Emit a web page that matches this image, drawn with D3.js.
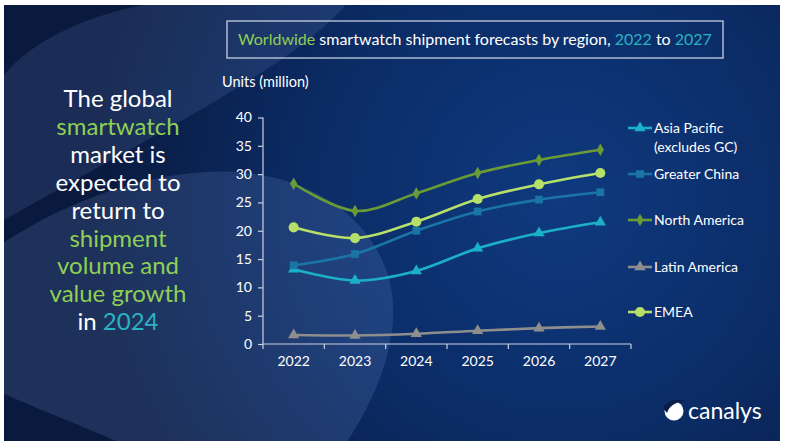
<!DOCTYPE html>
<html><head><meta charset="utf-8">
<script src="https://cdn.jsdelivr.net/npm/d3@7"></script>
<style>html,body{margin:0;padding:0;background:#fff;}svg{display:block;}</style>
</head><body>
<svg id="c" width="785" height="445"></svg>
<script>
const years = ["2022","2023","2024","2025","2026","2027"];
const yTicks = [0,5,10,15,20,25,30,35,40];
const northAmerica = [28.3,23.5,26.6,30.2,32.5,34.3];
const emea = [20.6,18.7,21.6,25.6,28.2,30.2];
const greaterChina = [13.9,15.9,20.0,23.4,25.5,26.8];
const asiaPacific = [13.2,11.2,12.9,16.9,19.6,21.5];
const latinAmerica = [1.6,1.5,1.8,2.35,2.8,3.1];
const seriesNames = ["Asia Pacific","Greater China","North America","Latin America","EMEA"];

const series = [
  {name:"North America", values:northAmerica, color:"#6b9b36", sym:d3.symbolDiamond, size:45},
  {name:"EMEA", values:emea, color:"#b6e06a", sym:d3.symbolCircle, size:80},
  {name:"Greater China", values:greaterChina, color:"#1a74a6", sym:d3.symbolSquare, size:60},
  {name:"Asia Pacific", values:asiaPacific, color:"#1cb0c8", sym:d3.symbolTriangle, size:55},
  {name:"Latin America", values:latinAmerica, color:"#8e8e8e", sym:d3.symbolTriangle, size:55}
];

const svg = d3.select("#c");
const defs = svg.append("defs");
const rg = defs.append("radialGradient").attr("id","bg").attr("gradientUnits","userSpaceOnUse")
  .attr("cx",560).attr("cy",200).attr("r",470);
rg.append("stop").attr("offset","0%").attr("stop-color","#0f3a80");
rg.append("stop").attr("offset","55%").attr("stop-color","#0b2b64");
rg.append("stop").attr("offset","100%").attr("stop-color","#0a1a3e");

const panel = svg.append("g");
panel.append("rect").attr("x",4).attr("y",5).attr("width",776).attr("height",436).attr("fill","url(#bg)");
defs.append("clipPath").attr("id","pc").append("rect").attr("x",4).attr("y",5).attr("width",776).attr("height",436);
const deco = panel.append("g").attr("clip-path","url(#pc)");
deco.append("path").attr("d","M0,80 C30,40 90,12 170,0 L350,0 C300,60 200,110 0,222 Z")
  .attr("fill","rgba(120,150,210,0.16)");
deco.append("path").attr("d","M0,245 C90,185 180,168 240,172 C320,180 370,220 388,275 C402,320 388,380 345,445 L125,445 C80,425 35,408 0,392 Z")
  .attr("fill","rgba(130,165,230,0.17)");

svg.append("rect").attr("x",227).attr("y",21).attr("width",496).attr("height",37)
  .attr("fill","none").attr("stroke","#c6cfdf").attr("stroke-width",1.3);
const tt = svg.append("text").attr("x",475).attr("y",45).attr("text-anchor","middle")
  .attr("font-family","Lato, sans-serif").attr("font-size",16).attr("fill","#ffffff");
tt.append("tspan").attr("fill","#8fcf55").text("Worldwide");
tt.append("tspan").text(" smartwatch shipment forecasts by region, ");
tt.append("tspan").attr("fill","#2bb3c3").text("2022");
tt.append("tspan").text(" to ");
tt.append("tspan").attr("fill","#2bb3c3").text("2027");

const W="#ffffff", G="#8fcf55", T="#2bb3c3";
const lines = [[["The global",W]],[["smartwatch",G]],[["market is",W]],[["expected to",W]],[["return to",W]],
  [["shipment",G]],[["volume and",G]],[["value growth",G]],[["in ",W],["2024",T]]];
lines.forEach((ln,i)=>{
  const t = svg.append("text").attr("x",118).attr("y",107+i*27.9).attr("text-anchor","middle")
    .attr("font-family","Lato, sans-serif").attr("font-size",24);
  ln.forEach(p=>t.append("tspan").attr("fill",p[1]).text(p[0]));
});

const x = d3.scaleBand().domain(years).range([263,631]);
const y = d3.scaleLinear().domain([0,40]).range([344,117.5]);
const axisColor = "#c9d1e1";

svg.append("text").attr("x",222).attr("y",87).attr("font-family","Lato, sans-serif").attr("font-size",14.5)
  .attr("fill","#ffffff").text("Units (million)");

const ya = svg.append("g").attr("transform","translate(263,0)")
  .call(d3.axisLeft(y).tickValues(yTicks).tickSize(5).tickPadding(6));
ya.select(".domain").attr("stroke",axisColor).attr("stroke-width",1.2).attr("d","M0,117.5V344");
ya.selectAll(".tick line").attr("stroke",axisColor).attr("stroke-width",1.2);
ya.selectAll("text").attr("fill","#ffffff").attr("font-family","Lato, sans-serif").attr("font-size",14);

const xa = svg.append("g").attr("transform","translate(0,344)")
  .call(d3.axisBottom(x).tickSize(0).tickPadding(12));
xa.select(".domain").attr("stroke",axisColor).attr("stroke-width",1.2).attr("d","M263,0H631");
xa.selectAll("text").attr("fill","#ffffff").attr("font-family","Lato, sans-serif").attr("font-size",14);
const bounds = years.map(d=>x(d)).concat([x(years[5])+x.bandwidth()]);
xa.selectAll(".bt").data(bounds).enter().append("line")
  .attr("x1",d=>d).attr("x2",d=>d).attr("y1",0).attr("y2",5).attr("stroke",axisColor).attr("stroke-width",1.2);

const line = d3.line().x((d,i)=>x(years[i])+x.bandwidth()/2).y(d=>y(d)).curve(d3.curveCardinal.tension(0));
const order = ["Latin America","Asia Pacific","Greater China","EMEA","North America"];
order.forEach(n=>{
  const s = series.find(q=>q.name===n);
  const g = svg.append("g");
  g.append("path").attr("d",line(s.values)).attr("fill","none").attr("stroke",s.color).attr("stroke-width",2.6);
  g.selectAll("path.m").data(s.values).enter().append("path").attr("class","m")
    .attr("d",d3.symbol().type(s.sym).size(s.size))
    .attr("transform",(d,i)=>`translate(${x(years[i])+x.bandwidth()/2},${y(d)})`)
    .attr("fill",s.color);
});

const legendY = {"Asia Pacific":128,"Greater China":174,"North America":220,"Latin America":267,"EMEA":312};
seriesNames.forEach(n=>{
  const s = series.find(q=>q.name===n);
  const ly = legendY[n];
  const g = svg.append("g");
  g.append("line").attr("x1",628).attr("x2",652).attr("y1",ly).attr("y2",ly).attr("stroke",s.color).attr("stroke-width",2.6);
  g.append("path").attr("d",d3.symbol().type(s.sym).size(s.size)).attr("transform",`translate(640,${ly})`).attr("fill",s.color);
  g.append("text").attr("x",654).attr("y",ly+5).attr("font-family","Lato, sans-serif").attr("font-size",14)
    .attr("fill","#ffffff").text(n);
  if(n==="Asia Pacific"){
    g.append("text").attr("x",654).attr("y",ly+24).attr("font-family","Lato, sans-serif").attr("font-size",14)
      .attr("fill","#ffffff").text("(excludes GC)");
  }
});

const lg = svg.append("g");
lg.append("circle").attr("cx",674).attr("cy",411).attr("r",9.5).attr("fill","#ffffff");
lg.append("path").attr("d","M663,408 C667,400 678,398 686,402 C677,401 670,405 667,413 Z").attr("fill","#0a1e48");
lg.append("text").attr("x",688).attr("y",419).attr("font-family","Lato, sans-serif").attr("font-size",23)
  .attr("fill","#ffffff").text("canalys");
</script>
</body></html>
